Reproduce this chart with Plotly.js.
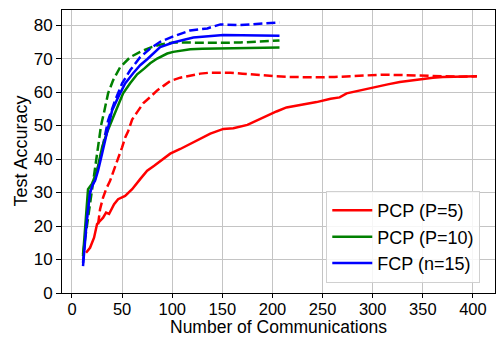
<!DOCTYPE html>
<html>
<head>
<meta charset="utf-8">
<script src="https://cdn.plot.ly/plotly-3.0.1.min.js"></script>
<style>html,body{margin:0;padding:0;background:#fff;}#chart{width:496px;height:339px;}</style>
</head>
<body>
<div id="chart"></div>
<script>
// PCP (P=5)
const pcp5X = [14, 18, 22, 25, 28, 31, 34, 37, 42, 46, 53, 60, 68, 75, 82, 90, 98, 108, 118, 125, 138, 151, 161, 175, 186, 195, 204, 214, 230, 244, 258, 267, 274, 287, 300, 315, 327, 340, 350, 360, 370, 385, 395, 404];
const pcp5Y = [12, 13.5, 16.5, 20.6, 21.5, 22.5, 24, 23.6, 26.5, 28, 29, 31, 34, 36.5, 38, 39.8, 41.6, 43, 44.5, 45.5, 47.6, 49, 49.2, 50.2, 51.8, 53, 54.2, 55.4, 56.2, 57, 58, 58.4, 59.6, 60.5, 61.4, 62.3, 63, 63.6, 64, 64.3, 64.5, 64.6, 64.7, 64.7];
const pcp5DashX = [26, 28, 31, 34, 38, 43, 46, 50, 53, 56, 60, 65, 71, 78, 85, 92, 98, 108, 118, 128, 138, 148, 158, 170, 181, 191, 204, 217, 232, 247, 262, 277, 293, 310, 325, 340, 354, 370, 385, 404];
const pcp5DashY = [20.5, 25, 28.5, 31, 33.5, 38, 40.2, 43.5, 46.4, 48.3, 51.8, 54, 56.6, 58.5, 60.5, 62, 63.3, 64.3, 65, 65.5, 65.8, 65.9, 65.8, 65.5, 65.2, 65, 64.7, 64.5, 64.4, 64.4, 64.5, 64.7, 65, 65.2, 65.1, 65, 64.7, 64.6, 64.6, 64.7];
// PCP (P=10)
const pcp10X = [11, 13, 16, 20, 25, 30, 35, 41, 46, 51, 58, 65, 72, 78, 85, 95, 101, 110, 118, 130, 151, 168, 188, 207];
const pcp10Y = [11, 20, 31, 32.6, 36.5, 43.4, 48, 52.4, 55.8, 59.6, 62.6, 65.3, 67, 68.6, 70, 71.5, 72, 72.5, 72.8, 72.9, 73, 73.3, 73.3, 73.3];
const pcp10DashX = [11, 14, 18, 23, 29, 32, 36, 41, 48, 58, 68, 80, 90, 101, 118, 135, 150, 168, 188, 207];
const pcp10DashY = [11.7, 18, 26.6, 36.5, 50, 54, 59.6, 63.5, 67.4, 70.4, 72, 73.5, 74.3, 74.8, 74.7, 74.6, 74.7, 74.8, 75.2, 75.4];
// FCP (n=15)
const fcpX = [11, 13, 15, 18, 21, 23, 26, 30, 35, 40, 46, 53, 61, 68, 75, 88, 101, 121, 151, 188, 207];
const fcpY = [8, 15, 22.5, 30, 32.6, 33.5, 36.5, 41.6, 48.5, 54.5, 58.4, 62.6, 65.6, 68, 69.8, 73.4, 74.8, 76.3, 77, 77, 76.8];
const fcpDashX = [11, 14, 18, 23, 28, 32, 36, 43, 50, 58, 68, 78, 88, 101, 118, 135, 148, 168, 188, 207];
const fcpDashY = [9, 20, 30, 34, 40, 46, 51.5, 57.5, 62.6, 66.5, 70.4, 73, 75, 76.6, 78.4, 79, 80.2, 80, 80.3, 80.8];

const xTicks = [0, 50, 100, 150, 200, 250, 300, 350, 400];
const yTicks = [0, 10, 20, 30, 40, 50, 60, 70, 80];
const labels = ['PCP (P=5)', 'PCP (P=10)', 'FCP (n=15)'];
const xTitle = 'Number of Communications';
const yTitle = 'Test Accuracy';

const LW = 2.5;
const dashPat = '9px,4px';
const traces = [
  {x: pcp5DashX, y: pcp5DashY, mode: 'lines', line: {color: 'red', width: LW, dash: dashPat}, showlegend: false},
  {x: pcp10DashX, y: pcp10DashY, mode: 'lines', line: {color: 'green', width: LW, dash: dashPat}, showlegend: false},
  {x: fcpDashX, y: fcpDashY, mode: 'lines', line: {color: 'blue', width: LW, dash: dashPat}, showlegend: false},
  {x: pcp5X, y: pcp5Y, mode: 'lines', name: labels[0], line: {color: 'red', width: LW}},
  {x: pcp10X, y: pcp10Y, mode: 'lines', name: labels[1], line: {color: 'green', width: LW}},
  {x: fcpX, y: fcpY, mode: 'lines', name: labels[2], line: {color: 'blue', width: LW}}
];

const font = {family: '"Liberation Sans", Arial, sans-serif', size: 18, color: '#000'};
const layout = {
  width: 496, height: 339,
  margin: {l: 62, r: 1, t: 10, b: 46},
  paper_bgcolor: '#fff', plot_bgcolor: '#fff',
  font: font,
  showlegend: true,
  xaxis: {
    range: [-9.97, 422], tickvals: xTicks, ticktext: xTicks.map(String),
    showgrid: true, gridcolor: '#c4c4c4', gridwidth: 1,
    showline: true, linecolor: '#000', linewidth: 1, mirror: true,
    ticks: 'outside', ticklen: 4, tickcolor: '#000', zeroline: false,
    tickfont: {size: 16.5}, ticklabelstandoff: -3
  },
  yaxis: {
    range: [0, 84.5], tickvals: yTicks, ticktext: yTicks.map(String),
    showgrid: true, gridcolor: '#c4c4c4', gridwidth: 1,
    showline: true, linecolor: '#000', linewidth: 1, mirror: true,
    ticks: 'outside', ticklen: 5, tickcolor: '#000', zeroline: false,
    tickfont: {size: 17}
  },
  annotations: [
    {text: xTitle, xref: 'paper', yref: 'paper', x: 0.5, y: -0.1625, xanchor: 'center', yanchor: 'bottom', showarrow: false, font: {size: 17.5}},
    {text: yTitle, xref: 'paper', yref: 'paper', x: -0.0968, y: 0.5, xanchor: 'center', yanchor: 'middle', textangle: -90, showarrow: false, font: {size: 18}}
  ],
  legend: {
    x: 0.966, y: 0.035, xanchor: 'right', yanchor: 'bottom',
    bgcolor: 'rgba(255,255,255,0.85)', bordercolor: '#d0d0d0', borderwidth: 1,
    font: {size: 18}, itemwidth: 40, tracegroupgap: 0
  }
};
Plotly.newPlot('chart', traces, layout, {displayModeBar: false, staticPlot: true});
</script>
</body>
</html>
